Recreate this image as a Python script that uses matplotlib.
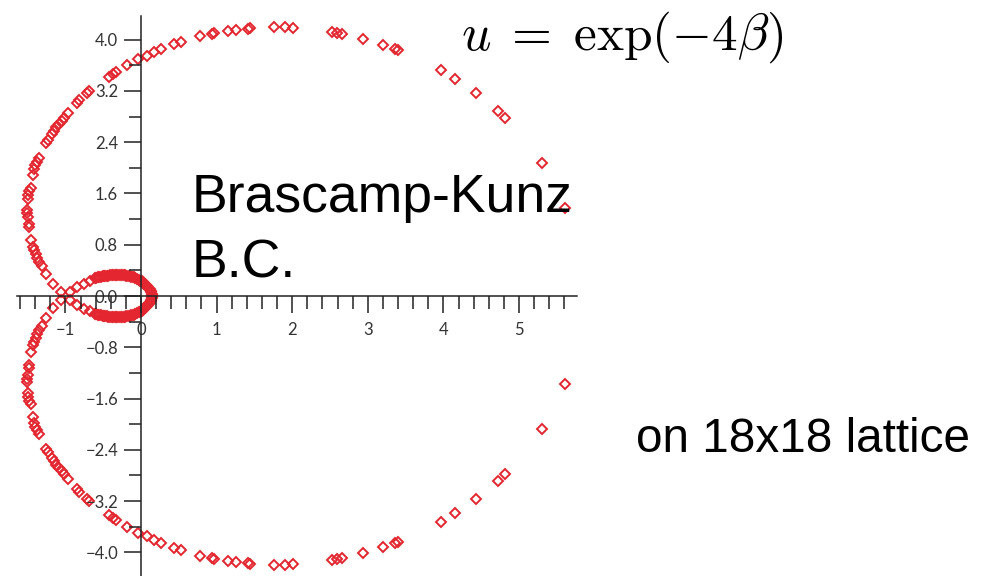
import matplotlib
matplotlib.use("Agg")
import matplotlib.pyplot as plt

# Zeros of the partition function in the complex u plane (upper half; the
# lower half is the complex conjugate set).
outer_re = [-1.06, -1.17, -1.26, -1.31, -1.35, -1.37, -1.39, -1.42, -1.43, -1.46,
            -1.48, -1.48, -1.50, -1.51, -1.51, -1.50, -1.49, -1.48, -1.46, -1.43,
            -1.42, -1.40, -1.38, -1.35, -1.26, -1.23, -1.18, -1.15, -1.12, -1.08,
            -1.05, -1.02, -0.96, -0.85, -0.82, -0.72, -0.69, -0.42, -0.37, -0.33,
            -0.19, -0.046, 0.075, 0.172, 0.265, 0.44, 0.533, 0.784, 0.935, 0.97,
            1.155, 1.26, 1.41, 1.446, 1.763, 1.905, 2.015, 2.53, 2.59, 2.655,
            2.94, 3.197, 3.36, 3.40, 3.97, 4.16, 4.43, 4.72, 4.81, 5.31, 5.61]
outer_im = [0.06, 0.19, 0.34, 0.47, 0.53, 0.59, 0.66, 0.72, 0.77, 0.88,
            1.07, 1.12, 1.24, 1.29, 1.34, 1.52, 1.58, 1.64, 1.68, 1.89,
            1.98, 2.04, 2.09, 2.15, 2.39, 2.43, 2.52, 2.57, 2.63, 2.68,
            2.73, 2.78, 2.85, 3.01, 3.06, 3.16, 3.20, 3.42, 3.47, 3.50,
            3.60, 3.69, 3.75, 3.81, 3.85, 3.93, 3.97, 4.05, 4.09, 4.10,
            4.13, 4.15, 4.17, 4.18, 4.19, 4.19, 4.18, 4.12, 4.11, 4.09,
            4.01, 3.92, 3.86, 3.84, 3.53, 3.38, 3.17, 2.89, 2.77, 2.07, 1.37]

inner_re = [-0.939, -0.843, -0.754, -0.681, -0.608, -0.589, -0.569, -0.549, -0.529,
            -0.509, -0.489, -0.47, -0.45, -0.43, -0.41, -0.39, -0.37, -0.35, -0.331,
            -0.311, -0.291, -0.271, -0.251, -0.231, -0.212, -0.192, -0.172, -0.152,
            -0.132, -0.112, -0.093, -0.073, -0.053, -0.033, -0.013, 0.007, 0.026,
            0.046, 0.066, 0.083, 0.099, 0.113, 0.126, 0.137, 0.146, 0.152]
inner_im = [0.055, 0.133, 0.195, 0.239, 0.276, 0.283, 0.289, 0.295, 0.30,
            0.305, 0.309, 0.313, 0.317, 0.320, 0.323, 0.326, 0.328, 0.329, 0.329,
            0.329, 0.329, 0.329, 0.328, 0.326, 0.323, 0.319, 0.315, 0.310,
            0.304, 0.297, 0.289, 0.279, 0.268, 0.256, 0.242, 0.227, 0.211,
            0.192, 0.172, 0.149, 0.125, 0.102, 0.078, 0.055, 0.031, 0.010]

x_major = [-1, 0, 1, 2, 3, 4, 5]
x_labels = ["\u22121", "0", "1", "2", "3", "4", "5"]
y_major = [-4.0, -3.2, -2.4, -1.6, -0.8, 0.0, 0.8, 1.6, 2.4, 3.2, 4.0]
y_labels = ["\u22124.0", "\u22123.2", "\u22122.4", "\u22121.6", "\u22120.8", "0.0",
            "0.8", "1.6", "2.4", "3.2", "4.0"]
x_minor = [v / 10 for v in range(-16, 57, 2) if v % 10 != 0]
y_minor = [-3.6, -2.8, -2.0, -1.2, -0.4, 0.4, 1.2, 2.0, 2.8, 3.6]

RED = "#e3262f"
AX = "#222222"

plt.rcParams["mathtext.fontset"] = "cm"

fig = plt.figure(figsize=(9.9, 5.76), dpi=100)
ax = fig.add_axes([0, 0, 1, 1])
ax.set_xlim(-1.865, 11.23)
ax.set_ylim(-4.368, 4.618)
ax.patch.set_alpha(0)

mk = dict(linestyle="none", marker="D", markersize=4.9, markerfacecolor="none",
          markeredgecolor=RED, markeredgewidth=1.4, zorder=1)
for re_, im_ in ((outer_re, outer_im), (inner_re, inner_im)):
    ax.plot(re_, im_, **mk)
    ax.plot(re_, [-v for v in im_], **mk)

for s in ("top", "right"):
    ax.spines[s].set_visible(False)
ax.spines["left"].set_position(("data", 0))
ax.spines["bottom"].set_position(("data", 0))
ax.spines["left"].set_bounds(-4.37, 4.37)
ax.spines["bottom"].set_bounds(-1.64, 5.77)
for s in ("left", "bottom"):
    ax.spines[s].set_color(AX)
    ax.spines[s].set_linewidth(1.1)

ax.set_xticks(x_major)
ax.set_xticklabels(x_labels)
ax.set_xticks(x_minor, minor=True)
ax.set_yticks(y_major)
ax.set_yticklabels(y_labels)
ax.set_yticks(y_minor, minor=True)

ax.tick_params(which="both", direction="out", color=AX, width=1.1,
               labelcolor="#333333", labelsize=12)
ax.tick_params(which="major", length=12.5)
ax.tick_params(which="minor", length=9)
ax.tick_params(axis="x", pad=6)
ax.tick_params(axis="y", pad=4)
for lab in ax.get_xticklabels() + ax.get_yticklabels():
    lab.set_fontfamily(["Lato", "DejaVu Sans"])

W, H = 990, 576
def fx(px):
    return px / W
def fy(py):
    return 1 - py / H

txt = dict(family=["Liberation Sans", "DejaVu Sans"], color="black", va="baseline", ha="left")
fig.text(fx(192), fy(212), "Brascamp-Kunz", fontsize=38.5, **txt)
fig.text(fx(192), fy(277), "B.C.", fontsize=38.5, **txt)
fig.text(fx(636), fy(452), "on 18x18 lattice", fontsize=34.3, **txt)

fig.text(fx(461), fy(50), r"$u\;=\;\exp(-4\beta)$", fontsize=37, color="black",
         va="baseline", ha="left")

fig.savefig("out.png", dpi=100)
